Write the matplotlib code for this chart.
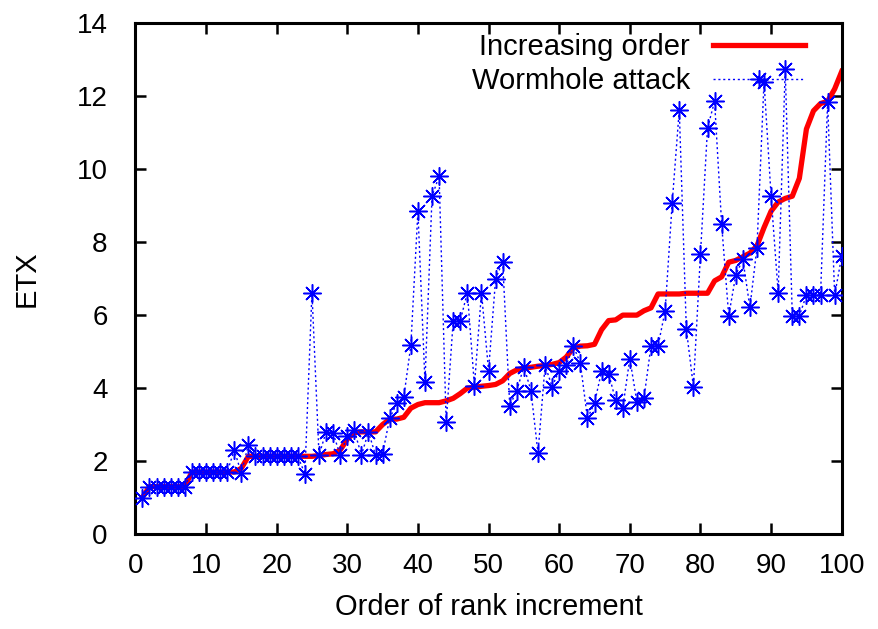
import matplotlib
matplotlib.use("Agg")
import matplotlib.pyplot as plt
import numpy as np

plt.rcParams["font.family"] = ["Liberation Sans", "DejaVu Sans"]

RED = "#ff0000"
BLUE = "#0000ff"

# rank order 1..100
rank = np.arange(1, 101)

increasing = [
    1.0, 1.3, 1.3, 1.3, 1.3, 1.3, 1.3, 1.7, 1.7, 1.7,
    1.7, 1.7, 1.7, 1.7, 1.8, 2.13, 2.13, 2.13, 2.13, 2.13,
    2.13, 2.13, 2.13, 2.13, 2.13, 2.15, 2.18, 2.2, 2.3, 2.6,
    2.78, 2.8, 2.8, 2.8, 3.0, 3.15, 3.15, 3.2, 3.45, 3.55,
    3.6, 3.6, 3.6, 3.65, 3.72, 3.85, 4.0, 4.02, 4.05, 4.07,
    4.1, 4.2, 4.4, 4.5, 4.55, 4.57, 4.6, 4.62, 4.65, 4.7,
    4.85, 5.1, 5.15, 5.16, 5.2, 5.6, 5.85, 5.87, 6.0, 6.0,
    6.0, 6.12, 6.2, 6.58, 6.58, 6.58, 6.58, 6.6, 6.6, 6.6,
    6.6, 6.94, 7.05, 7.45, 7.5, 7.6, 7.7, 7.9, 8.4, 8.85,
    9.1, 9.2, 9.26, 9.75, 11.1, 11.6, 11.8, 11.86, 12.2, 12.68,
]

wormhole = [
    1.0, 1.3, 1.3, 1.3, 1.3, 1.3, 1.3, 1.7, 1.7, 1.7,
    1.7, 1.7, 1.7, 2.3, 1.67, 2.45, 2.13, 2.13, 2.13, 2.13,
    2.13, 2.13, 2.13, 1.65, 6.62, 2.16, 2.8, 2.76, 2.16, 2.7,
    2.84, 2.16, 2.8, 2.16, 2.2, 3.17, 3.58, 3.75, 5.17, 8.85,
    4.16, 9.26, 9.81, 3.07, 5.85, 5.85, 6.62, 4.07, 6.62, 4.48,
    6.99, 7.47, 3.52, 3.93, 4.59, 3.93, 2.22, 4.62, 4.04, 4.48,
    4.62, 5.16, 4.68, 3.17, 3.59, 4.46, 4.4, 3.66, 3.46, 4.81,
    3.62, 3.72, 5.16, 5.16, 6.12, 9.08, 11.63, 5.62, 4.04, 7.67,
    11.13, 11.86, 8.49, 5.98, 7.1, 7.53, 6.21, 7.85, 12.4, 9.26,
    6.62, 12.75, 5.98, 5.98, 6.55, 6.55, 6.55, 11.84, 6.55, 7.62,
]

fig = plt.figure(figsize=(8.79, 6.29), dpi=100)
ax = fig.add_axes([0.154, 0.151, 0.8036, 0.812])

ax.plot(rank, increasing, color=RED, lw=3.8, label="Increasing order", zorder=2)
ax.plot(rank, wormhole, color=BLUE, lw=1.0, ls=(0, (1.5, 2.0)),
        marker=(8, 2, 0), markersize=13, markeredgewidth=1.1,
        label="Wormhole attack", zorder=3)

ax.set_xlim(0, 100)
ax.set_ylim(0, 14)
ax.set_xticks(np.arange(0, 101, 10))
ax.set_yticks(np.arange(0, 15, 2))
ax.tick_params(direction="in", length=8, width=1.8, labelsize=20,
               top=True, right=True)
ax.tick_params(axis="x", pad=14)
ax.tick_params(axis="y", pad=20)
for spine in ax.spines.values():
    spine.set_linewidth(2.2)

ax.set_xlabel("Order of rank increment", fontsize=21, labelpad=10)
ax.set_ylabel("ETX", fontsize=21, labelpad=26)

leg = ax.legend(loc="upper right", bbox_to_anchor=(0.948, 0.98),
                fontsize=21, frameon=False, markerfirst=False,
                handlelength=3.15, numpoints=1, labelspacing=0.2,
                borderaxespad=0.0, borderpad=0.0, handletextpad=0.8)

fig.savefig("out.png", dpi=100)
